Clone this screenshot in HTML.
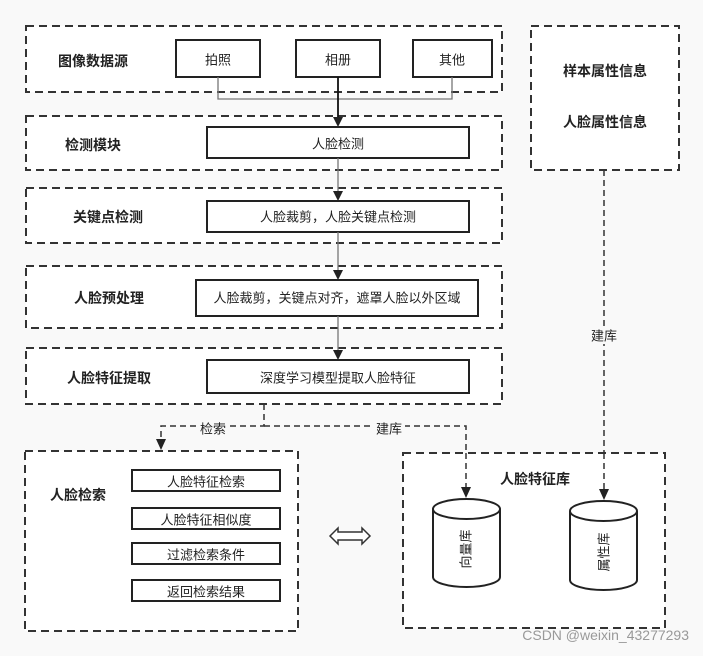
<!DOCTYPE html>
<html><head><meta charset="utf-8"><style>
html,body{margin:0;padding:0;background:#f9f9f9;}
svg{display:block;font-family:"Liberation Sans","Noto Sans CJK SC",sans-serif;}
.d{fill:#fff;stroke:#333;stroke-width:2;stroke-dasharray:8 5;}
.b{fill:#fff;stroke:#222;stroke-width:2;}
.t{font-size:13px;fill:#222;text-anchor:middle;dominant-baseline:central;}
.h{font-size:14px;font-weight:bold;fill:#222;text-anchor:middle;dominant-baseline:central;}
.l{fill:none;stroke:#777;stroke-width:1.3;}
.dl{fill:none;stroke:#333;stroke-width:1.5;stroke-dasharray:6 4;}
.ar{fill:#222;}
</style></head><body>
<svg width="703" height="656" viewBox="0 0 703 656">
<rect class="d" x="26" y="26" width="476" height="66"/>
<text class="h" x="93" y="61">图像数据源</text>
<rect class="b" x="176" y="40" width="84" height="37"/><text class="t" x="218" y="60">拍照</text>
<rect class="b" x="296" y="40" width="84" height="37"/><text class="t" x="338" y="60">相册</text>
<rect class="b" x="413" y="40" width="79" height="37"/><text class="t" x="452" y="60">其他</text>

<rect class="d" x="26" y="116" width="476" height="54"/>
<text class="h" x="93" y="145">检测模块</text>
<rect class="b" x="207" y="127" width="262" height="31"/><text class="t" x="338" y="144">人脸检测</text>

<rect class="d" x="26" y="188" width="476" height="55"/>
<text class="h" x="108" y="217">关键点检测</text>
<rect class="b" x="207" y="201" width="262" height="31"/><text class="t" x="338" y="217">人脸裁剪，人脸关键点检测</text>

<rect class="d" x="26" y="266" width="476" height="62"/>
<text class="h" x="109" y="298">人脸预处理</text>
<rect class="b" x="196" y="280" width="282" height="36"/><text class="t" x="337" y="298">人脸裁剪，关键点对齐，遮罩人脸以外区域</text>

<rect class="d" x="26" y="348" width="476" height="56"/>
<text class="h" x="109" y="378">人脸特征提取</text>
<rect class="b" x="207" y="360" width="262" height="33"/><text class="t" x="338" y="378">深度学习模型提取人脸特征</text>

<rect class="d" x="531" y="26" width="148" height="144"/>
<text class="h" x="605" y="71">样本属性信息</text>
<text class="h" x="605" y="122">人脸属性信息</text>

<path class="l" d="M218,77 V99 H452 V77"/>
<path d="M338,77 V120" stroke="#111" stroke-width="1.8" fill="none"/>
<path class="ar" d="M333,117 H343 L338,127 Z"/>
<path class="l" d="M338,158 V194"/><path class="ar" d="M333,191 H343 L338,201 Z"/>
<path class="l" d="M338,232 V273"/><path class="ar" d="M333,270 H343 L338,280 Z"/>
<path class="l" d="M338,316 V353"/><path class="ar" d="M333,350 H343 L338,360 Z"/>

<path class="dl" d="M264,404 V426 H161 V442"/>
<path class="ar" d="M156,439 H166 L161,450 Z"/>
<path class="dl" d="M264,426 H466 V488"/>
<path class="dl" d="M604,170 V490"/>
<rect x="197" y="421" width="32" height="16" fill="#f9f9f9"/><text class="t" x="213" y="429">检索</text>
<rect x="373" y="421" width="32" height="16" fill="#f9f9f9"/><text class="t" x="389" y="429">建库</text>
<rect x="590" y="328" width="30" height="16" fill="#f9f9f9"/><text class="t" x="604" y="336">建库</text>

<rect class="d" x="25" y="451" width="273" height="180"/>
<text class="h" x="78" y="495">人脸检索</text>
<rect class="b" x="132" y="470" width="148" height="21"/><text class="t" x="206" y="482">人脸特征检索</text>
<rect class="b" x="132" y="508" width="148" height="21"/><text class="t" x="206" y="520">人脸特征相似度</text>
<rect class="b" x="132" y="543" width="148" height="21"/><text class="t" x="206" y="555">过滤检索条件</text>
<rect class="b" x="132" y="580" width="148" height="21"/><text class="t" x="206" y="592">返回检索结果</text>

<path d="M330,536 L338,528 V532 H362 V528 L370,536 L362,544 V540 H338 V544 Z" fill="#fff" stroke="#333" stroke-width="1.5"/>

<rect class="d" x="403" y="453" width="262" height="175"/>
<path class="dl" d="M466,453 V488"/>
<path class="dl" d="M604,453 V490"/>
<text class="h" x="535" y="479">人脸特征库</text>
<g fill="#fff" stroke="#222" stroke-width="2">
<path d="M433,509 V577 A33.5,10 0 0 0 500,577 V509"/>
<ellipse cx="466.5" cy="509" rx="33.5" ry="10"/>
<path d="M570,511 V580 A33.5,10 0 0 0 637,580 V511"/>
<ellipse cx="603.5" cy="511" rx="33.5" ry="10"/>
</g>
<path class="ar" d="M461,487 H471 L466,498 Z"/>
<path class="ar" d="M599,489 H609 L604,500 Z"/>
<text class="t" transform="translate(466,549) rotate(-90)">向量库</text>
<text class="t" transform="translate(604,552) rotate(-90)">属性库</text>

<text x="689" y="640" font-size="14" fill="#999" text-anchor="end">CSDN @weixin_43277293</text>
</svg>
</body></html>
